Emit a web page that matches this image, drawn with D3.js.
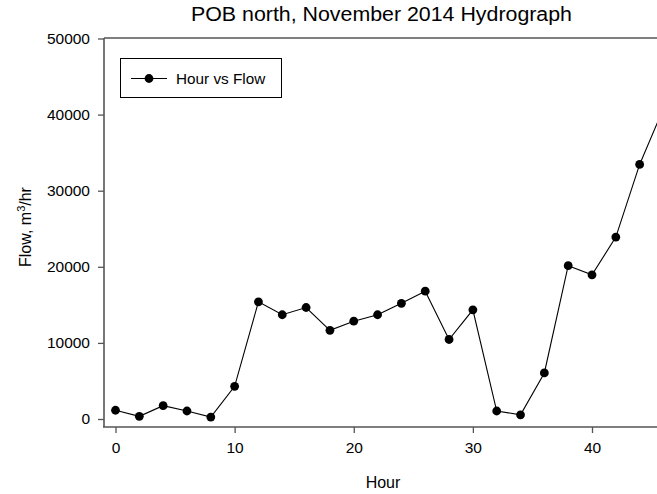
<!DOCTYPE html>
<html><head><meta charset="utf-8">
<script src="https://cdn.jsdelivr.net/npm/d3@7"></script>
<style>body{margin:0;background:#fff}svg{display:block}text{font-family:"Liberation Sans",Arial,sans-serif;fill:#000}</style>
</head><body>
<svg id="c" width="657" height="494"></svg>
<script>
const hours = [0,2,4,6,8,10,12,14,16,18,20,22,24,26,28,30,32,34,36,38,40,42,44,46];
const flow = [1150,350,1750,1050,250,4300,15400,13700,14650,11650,12850,13700,15200,16800,10450,14350,1050,550,6050,20150,18950,23900,33450,40800];
const xTicks = [0,10,20,30,40];
const yTicks = [0,10000,20000,30000,40000,50000];
const title = "POB north, November 2014 Hydrograph";
const seriesName = "Hour vs Flow";

const svg = d3.select("#c");
const pLeft = 104, pRight = 657, pTop = 38, axisY = 427;
const x = d3.scaleLinear().domain([0, 40]).range([115.5, 592]);
const y = d3.scaleLinear().domain([0, 50000]).range([419, 38.5]);
const axisColor = "#555";

svg.append("defs").append("clipPath").attr("id","clip")
  .append("rect").attr("x", pLeft).attr("y", 0).attr("width", pRight-pLeft).attr("height", axisY);

// frame line
svg.append("line").attr("x1",pLeft).attr("x2",pRight).attr("y1",pTop).attr("y2",pTop).attr("stroke",axisColor).attr("stroke-width",1.6);

// y axis
const ya = svg.append("g").attr("transform",`translate(${pLeft},0)`)
  .call(d3.axisLeft(y).tickValues(yTicks).tickSize(6).tickPadding(8).tickFormat(d3.format("d")));
ya.select(".domain").remove();
ya.append("line").attr("x1",0).attr("x2",0).attr("y1",pTop).attr("y2",axisY).attr("stroke",axisColor).attr("stroke-width",1.6);
ya.selectAll(".tick line").attr("stroke",axisColor).attr("stroke-width",1.3);
ya.selectAll(".tick text").style("font-size","15.5px").attr("fill","#000");

// x axis
const xa = svg.append("g").attr("transform",`translate(0,${axisY})`)
  .call(d3.axisBottom(x).tickValues(xTicks).tickSize(6).tickPadding(9).tickFormat(d3.format("d")));
xa.select(".domain").remove();
xa.append("line").attr("x1",pLeft-1).attr("x2",pRight).attr("y1",0).attr("y2",0).attr("stroke",axisColor).attr("stroke-width",1.6);
xa.selectAll(".tick line").attr("stroke",axisColor).attr("stroke-width",1.3);
xa.selectAll(".tick text").style("font-size","15.5px").attr("fill","#000");

const data = hours.map((h,i)=>({h, v: flow[i]}));
const plot = svg.append("g").attr("clip-path","url(#clip)");
plot.append("path").datum(data)
  .attr("d", d3.line().x(d=>x(d.h)).y(d=>y(d.v)))
  .attr("fill","none").attr("stroke","#000").attr("stroke-width",1.1);
plot.selectAll("circle").data(data).join("circle")
  .attr("cx", d=>x(d.h)).attr("cy", d=>y(d.v)).attr("r",4.4).attr("fill","#000");

// legend
const lg = svg.append("g");
lg.append("rect").attr("x",120.5).attr("y",58.5).attr("width",161).attr("height",39).attr("fill","#fff").attr("stroke","#000").attr("stroke-width",1);
lg.append("line").attr("x1",131).attr("x2",167).attr("y1",78.5).attr("y2",78.5).attr("stroke","#000").attr("stroke-width",1.1);
lg.append("circle").attr("cx",149).attr("cy",78.5).attr("r",4.4).attr("fill","#000");
lg.append("text").attr("x",176).attr("y",84).style("font-size","15.3px").text(seriesName);

// title
svg.append("text").attr("x",381.5).attr("y",21).attr("text-anchor","middle").style("font-size","19.5px")
  .attr("textLength",381).attr("lengthAdjust","spacingAndGlyphs").text(title);

// axis labels
svg.append("text").attr("x",383).attr("y",488).attr("text-anchor","middle").style("font-size","16px").text("Hour");
const yl = svg.append("text").attr("transform","translate(31,227) rotate(-90)").attr("text-anchor","middle").style("font-size","16px");
yl.append("tspan").text("Flow, m");
yl.append("tspan").attr("dy",-6).style("font-size","11px").text("3");
yl.append("tspan").attr("dy",6).text("/hr");
</script>
</body></html>
